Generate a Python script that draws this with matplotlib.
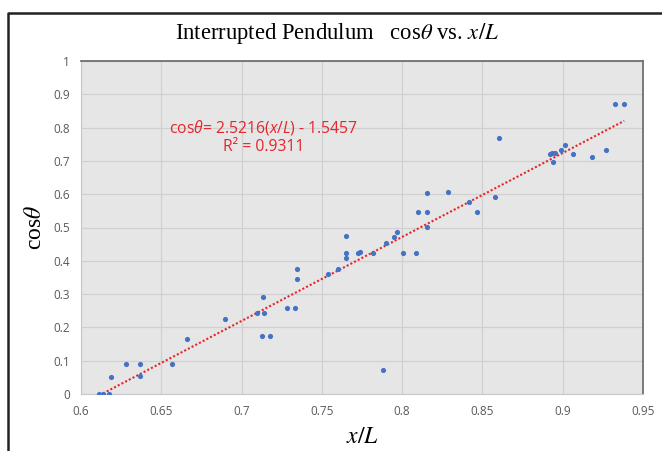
import numpy as np
import matplotlib
matplotlib.use("Agg")
import matplotlib.pyplot as plt
from matplotlib.lines import Line2D

plt.rcParams['mathtext.fontset'] = 'custom'
plt.rcParams['mathtext.rm'] = 'Open Sans'
plt.rcParams['mathtext.it'] = 'Open Sans:italic'

# data
x_over_L = [0.6114, 0.6139, 0.6176, 0.6187, 0.6283, 0.637, 0.637, 0.6566, 0.666, 0.6894,
            0.7098, 0.7137, 0.7135, 0.7125, 0.7179, 0.7285, 0.7331, 0.7345, 0.7345, 0.754,
            0.760, 0.765, 0.765, 0.765, 0.7724, 0.774, 0.782, 0.788, 0.790, 0.7948,
            0.7967, 0.8003, 0.8086, 0.8096, 0.8157, 0.8157, 0.8157, 0.8286, 0.8417, 0.8467,
            0.8577, 0.8606, 0.892, 0.8935, 0.895, 0.894, 0.899, 0.9017, 0.9063, 0.918,
            0.9271, 0.9323, 0.9383]
cos_theta = [0.0, 0.0, 0.0, 0.05, 0.09, 0.09, 0.055, 0.09, 0.165, 0.225,
             0.242, 0.242, 0.292, 0.173, 0.173, 0.258, 0.258, 0.345, 0.375, 0.36,
             0.375, 0.408, 0.422, 0.474, 0.422, 0.427, 0.422, 0.072, 0.454, 0.471,
             0.485, 0.422, 0.422, 0.546, 0.546, 0.605, 0.502, 0.606, 0.577, 0.546,
             0.591, 0.770, 0.722, 0.723, 0.725, 0.696, 0.733, 0.747, 0.722, 0.711,
             0.733, 0.870, 0.870]
slope = 2.5216
intercept = -1.5457
r2 = 0.9311
x_ticks = [0.6, 0.65, 0.7, 0.75, 0.8, 0.85, 0.9, 0.95]
x_tick_labels = ['0.6', '0.65', '0.7', '0.75', '0.8', '0.85', '0.9', '0.95']
y_ticks = [0, 0.1, 0.2, 0.3, 0.4, 0.5, 0.6, 0.7, 0.8, 0.9, 1]
y_tick_labels = ['0', '0.1', '0.2', '0.3', '0.4', '0.5', '0.6', '0.7', '0.8', '0.9', '1']

fig = plt.figure(figsize=(6.62, 4.51), dpi=100)
ax = fig.add_axes([81/662, 1-394/451, (643-81)/662, (394-61)/451])
ax.set_facecolor('#e7e6e6')

# trend line
xt = np.array([min(x_over_L), max(x_over_L)])
ax.plot(xt, slope*xt + intercept, color='#e3262b', linestyle=(0, (1, 1)), linewidth=1.5, zorder=2)
ax.scatter(x_over_L, cos_theta, s=14, color='#4472c4', zorder=3, linewidths=0)

ax.set_xlim(0.6, 0.95)
ax.set_ylim(0, 1)
ax.set_xticks(x_ticks)
ax.set_xticklabels(x_tick_labels)
ax.set_yticks(y_ticks)
ax.set_yticklabels(y_tick_labels)
ax.tick_params(length=0, labelsize=8.5, labelcolor='#595959', pad=8)
for lab in ax.get_xticklabels() + ax.get_yticklabels():
    lab.set_family('Open Sans')
ax.grid(True, color='#d0d0d0', linewidth=0.9)
ax.set_axisbelow(True)
for s in ['left', 'bottom']:
    ax.spines[s].set_color('#c8c8c8')
for s in ['top', 'right']:
    ax.spines[s].set_color('#707070')
    ax.spines[s].set_linewidth(1.3)

fig.text(337/662, 1-34/451, r'Interrupted Pendulum   cos$\theta$ vs. $x/L$', fontsize=16.3,
         family='Liberation Serif', math_fontfamily='stix', ha='center', va='center')
ax.set_xlabel(r'$x/L$', fontsize=17, math_fontfamily='stix', labelpad=4)
ax.set_ylabel(r'cos$\theta$', fontsize=17, family='Liberation Serif',
              math_fontfamily='stix', labelpad=5)

ax.text(0.7135, 0.80, r'cos$\theta$= 2.5216($x$/$L$) - 1.5457', color='#e3262b',
        fontsize=11.3, family='Open Sans', ha='center', va='center')
ax.text(0.7135, 0.743, 'R² = %.4f' % r2, color='#e3262b',
        fontsize=11.3, family='Open Sans', ha='center', va='center')

# outer frame
fig.add_artist(Line2D([7.5/662, 7.5/662, 1.0], [0, 1-12.5/451, 1-12.5/451],
                      transform=fig.transFigure, color='#222222', linewidth=1.8))

fig.savefig('out.png', dpi=100)
